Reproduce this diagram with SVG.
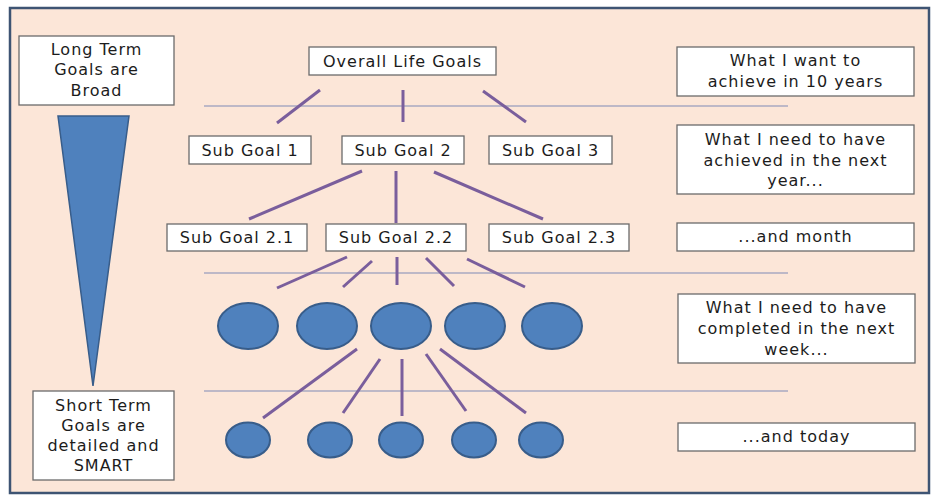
<svg xmlns="http://www.w3.org/2000/svg" width="940" height="503" viewBox="0 0 940 503">
<style>
.box{fill:#fff;stroke:#6b6b6b;stroke-width:1.3}
.t{font-family:"DejaVu Sans","Open Sans",sans-serif;font-size:16px;letter-spacing:1px;fill:#1c1c1c;text-anchor:middle}
.conn line{stroke:#7a5e9c;stroke-width:3;stroke-linecap:butt}
.guide line{stroke:#a9a9c2;stroke-width:1.6}
.big{fill:#4f81bd;stroke:#385d8a;stroke-width:2}
</style>
<rect x="0" y="0" width="940" height="503" fill="#fff"/>
<rect x="10" y="8" width="919" height="485" fill="#fce6d8" stroke="#3e5473" stroke-width="2.5"/>
<g class="guide">
<line x1="204" y1="106" x2="788" y2="106"/>
<line x1="204" y1="273" x2="788" y2="273"/>
<line x1="204" y1="391" x2="788" y2="391"/>
</g>
<g id="triangle"><polygon points="58,116 129,116 93,386" fill="#4f81bd" stroke="#385d8a" stroke-width="1.5"/></g>
<g id="long-term"><rect class="box" x="19" y="36" width="155" height="69"/>
<text class="t" x="96.5" y="55">Long Term</text><text class="t" x="96.5" y="75">Goals are</text><text class="t" x="96.5" y="96">Broad</text></g>
<g id="short-term"><rect class="box" x="33" y="391" width="141" height="89"/>
<text class="t" x="103.5" y="411">Short Term</text><text class="t" x="103.5" y="431">Goals are</text><text class="t" x="103.5" y="451">detailed and</text><text class="t" x="103.5" y="471">SMART</text></g>
<g class="conn">
<line x1="320" y1="90" x2="277" y2="123"/>
<line x1="403" y1="90" x2="403" y2="122"/>
<line x1="483" y1="91" x2="526" y2="122"/>
<line x1="362" y1="171" x2="249" y2="219"/>
<line x1="396" y1="171" x2="396" y2="223"/>
<line x1="434" y1="172" x2="543" y2="219"/>
<line x1="347" y1="257" x2="277" y2="288"/>
<line x1="372" y1="261" x2="343" y2="287"/>
<line x1="397" y1="257" x2="397" y2="285"/>
<line x1="426" y1="258" x2="454" y2="286"/>
<line x1="467" y1="259" x2="525" y2="287"/>
<line x1="357" y1="349" x2="263" y2="418"/>
<line x1="380" y1="359" x2="343" y2="413"/>
<line x1="402" y1="359" x2="402" y2="416"/>
<line x1="426" y1="354" x2="466" y2="411"/>
<line x1="440" y1="349" x2="526" y2="413"/>
</g>
<g id="overall"><rect class="box" x="309" y="47" width="187" height="28"/><text class="t" x="402.5" y="67">Overall Life Goals</text></g>
<g id="sg1"><rect class="box" x="189" y="136" width="122" height="28"/><text class="t" x="250" y="156">Sub Goal 1</text></g>
<g id="sg2"><rect class="box" x="342" y="136" width="122" height="28"/><text class="t" x="403" y="156">Sub Goal 2</text></g>
<g id="sg3"><rect class="box" x="489" y="136" width="123" height="28"/><text class="t" x="550.5" y="156">Sub Goal 3</text></g>
<g id="sg21"><rect class="box" x="167" y="224" width="140" height="27"/><text class="t" x="237" y="243">Sub Goal 2.1</text></g>
<g id="sg22"><rect class="box" x="326" y="224" width="140" height="27"/><text class="t" x="396" y="243">Sub Goal 2.2</text></g>
<g id="sg23"><rect class="box" x="489" y="224" width="140" height="27"/><text class="t" x="559" y="243">Sub Goal 2.3</text></g>
<g id="week-nodes">
<ellipse class="big" cx="248" cy="326" rx="30" ry="23"/>
<ellipse class="big" cx="327" cy="326" rx="30" ry="23"/>
<ellipse class="big" cx="401" cy="326" rx="30" ry="23"/>
<ellipse class="big" cx="475" cy="326" rx="30" ry="23"/>
<ellipse class="big" cx="552" cy="326" rx="30" ry="23"/>
</g>
<g id="day-nodes">
<ellipse class="big" cx="248" cy="440" rx="22" ry="17.5"/>
<ellipse class="big" cx="330" cy="440" rx="22" ry="17.5"/>
<ellipse class="big" cx="401" cy="440" rx="22" ry="17.5"/>
<ellipse class="big" cx="474" cy="440" rx="22" ry="17.5"/>
<ellipse class="big" cx="541" cy="440" rx="22" ry="17.5"/>
</g>
<g id="label-10y"><rect class="box" x="677" y="47" width="237" height="49"/><text class="t" x="795.5" y="66">What I want to</text><text class="t" x="795.5" y="87">achieve in 10 years</text></g>
<g id="label-year"><rect class="box" x="677" y="125" width="237" height="69"/><text class="t" x="795.5" y="145">What I need to have</text><text class="t" x="795.5" y="166">achieved in the next</text><text class="t" x="795.5" y="186">year...</text></g>
<g id="label-month"><rect class="box" x="677" y="223" width="237" height="28"/><text class="t" x="795.5" y="242">...and month</text></g>
<g id="label-week"><rect class="box" x="678" y="294" width="237" height="69"/><text class="t" x="796.5" y="313">What I need to have</text><text class="t" x="796.5" y="334">completed in the next</text><text class="t" x="796.5" y="355">week...</text></g>
<g id="label-today"><rect class="box" x="678" y="423" width="237" height="28"/><text class="t" x="796.5" y="442">...and today</text></g>
</svg>
